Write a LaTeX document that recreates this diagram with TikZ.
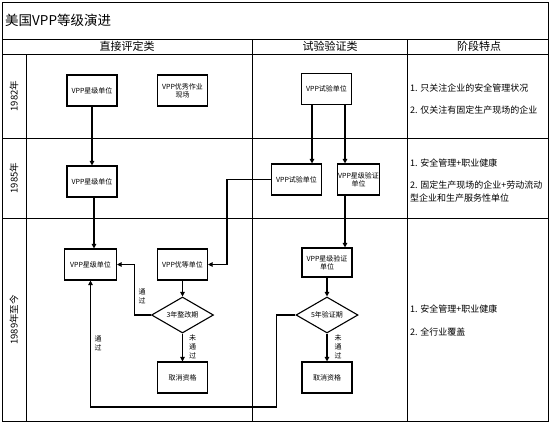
\documentclass[tikz,border=0pt]{standalone}
\usepackage{fontspec}
\setmainfont{Noto Sans CJK SC}
\usetikzlibrary{arrows.meta,shapes.geometric}
\begin{document}
\begin{tikzpicture}[x=1pt,y=-1pt,
  frame/.style={line width=0.9pt,draw=black},
  box/.style={draw,line width=1.1pt,minimum width=50pt,minimum height=31pt,inner sep=1pt,
    font=\fontsize{7}{8}\selectfont,align=center},
  dia/.style={draw,diamond,aspect=1.72,line width=1.1pt,minimum width=62pt,minimum height=36pt,
    inner sep=0pt,font=\fontsize{7}{8}\selectfont},
  conn/.style={line width=1.1pt,-{Triangle[length=4.5pt,width=4.5pt]}},
  head/.style={font=\fontsize{11}{12}\selectfont},
  yearlab/.style={rotate=90,font=\fontsize{9.5}{10}\selectfont},
  note/.style={anchor=west,font=\fontsize{9}{11}\selectfont,inner sep=0pt},
  vlab/.style={font=\fontsize{7}{9}\selectfont,align=center,inner sep=0pt}
]
\useasboundingbox (0,0) rectangle (550,424);
% frame
\draw[frame] (2,2) rectangle (548,421);
\draw[frame] (2,39) -- (548,39);
\draw[frame] (2,54) -- (548,54);
\draw[frame] (2,138) -- (548,138);
\draw[frame] (2,218) -- (548,218);
\draw[frame] (26,54) -- (26,421);
\draw[frame] (252,39) -- (252,421);
\draw[frame] (407,39) -- (407,421);
% title and headers
\node[anchor=west,font=\fontsize{13.5}{15}\selectfont,inner sep=0pt] (title) at (5,20) {美国VPP等级演进};
\node[head] (h1) at (127,46.5) {直接评定类};
\node[head] (h2) at (330,46.5) {试验验证类};
\node[head] (h3) at (479,46.5) {阶段特点};
% years
\node[yearlab] (y1) at (14,96) {1982年};
\node[yearlab] (y2) at (14,178) {1985年};
\node[yearlab] (y3) at (14,320) {1989年至今};
% nodes
\node[box] (a1) at (92,90.5) {VPP星级单位};
\node[box] (a2) at (182.5,90.5) {VPP优秀作业\\现场};
\node[box] (t1) at (326.5,89) {VPP试验单位};
\node[box] (b1) at (92,181.5) {VPP星级单位};
\node[box] (t2) at (296.5,179.5) {VPP试验单位};
\node[box,minimum width=41pt] (t3) at (358.5,179.5) {VPP星级验证\\单位};
\node[box,minimum width=52pt] (c1) at (90.5,264.5) {VPP星级单位};
\node[box] (c2) at (182.5,264.5) {VPP优等单位};
\node[box,minimum height=29pt] (t4) at (327,262.5) {VPP星级验证\\单位};
\node[dia] (d1) at (182.5,315) {3年整改期};
\node[dia] (d2) at (327,315) {5年验证期};
\node[box] (x1) at (182.5,377.5) {取消资格};
\node[box] (x2) at (327,377.5) {取消资格};
% connectors
\draw[conn] (a1) -- (b1);
\draw[conn] ([xshift=2pt]b1.south) -- ([xshift=2pt]b1.south |- c1.north);
\draw[conn] ([xshift=-14.5pt]t1.south) -- ([xshift=-14.5pt]t1.south |- t2.north);
\draw[conn] ([xshift=18.5pt]t1.south) -- ([xshift=18.5pt]t1.south |- t3.north);
\draw[conn] ([xshift=-13.5pt]t3.south) -- ([xshift=-13.5pt]t3.south |- t4.north);
\draw[conn] (t2.west) -- ++(-44,0) |- (c2.east);
\draw[conn] (c2) -- (d1);
\draw[conn] (t4) -- (d2);
\draw[conn] (d1.south) -- (x1.north);
\draw[conn] (d2.south) -- (x2.north);
\draw[conn] (d1.west) -- ++(-16.5,0) |- (c1.east);
\draw[conn] (d2.west) -- ++(-19,0) -- ++(0,92) -| (c1.south);
% connector labels
\node[vlab] (l1) at (142,296) {通\\过};
\node[vlab] (l2) at (98,343) {通\\过};
\node[vlab] (l3) at (192.5,347) {未\\通\\过};
\node[vlab] (l4) at (338,347) {未\\通\\过};
% notes
\node[note] (n1) at (410,88) {1. 只关注企业的安全管理状况};
\node[note] (n2) at (410,110) {2. 仅关注有固定生产现场的企业};
\node[note] (n3) at (410,163) {1. 安全管理+职业健康};
\node[note] (n4) at (410,185) {2. 固定生产现场的企业+劳动流动};
\node[note] (n5) at (410,198) {型企业和生产服务性单位};
\node[note] (n6) at (410,309) {1. 安全管理+职业健康};
\node[note] (n7) at (410,332) {2. 全行业覆盖};
\end{tikzpicture}
\end{document}
